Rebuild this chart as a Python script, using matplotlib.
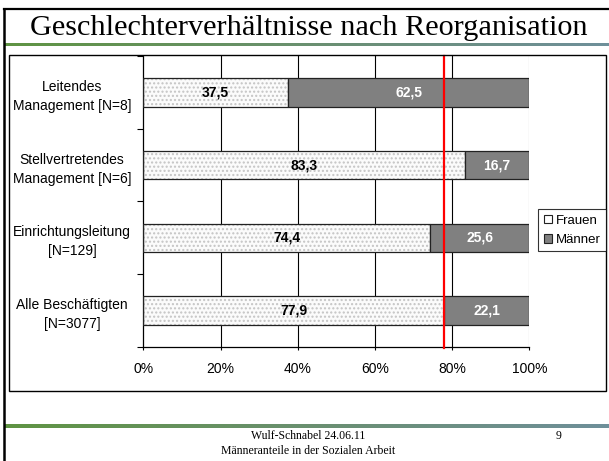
import numpy as np
import matplotlib
matplotlib.use("Agg")
import matplotlib.pyplot as plt
from matplotlib.patches import Rectangle, Patch
from matplotlib.lines import Line2D
from matplotlib.colors import LinearSegmentedColormap

# ---------------- data ----------------
title = "Geschlechterverhältnisse nach Reorganisation"
categories = ["Leitendes\nManagement [N=8]",
              "Stellvertretendes\nManagement [N=6]",
              "Einrichtungsleitung\n[N=129]",
              "Alle Beschäftigten\n[N=3077]"]
frauen = [37.5, 83.3, 74.4, 77.9]
maenner = [62.5, 16.7, 25.6, 22.1]
frauen_labels = ["37,5", "83,3", "74,4", "77,9"]
maenner_labels = ["62,5", "16,7", "25,6", "22,1"]
series_names = ["Frauen", "Männer"]
reference_value = 77.9
x_ticks = [0, 20, 40, 60, 80, 100]
x_ticklabels = ["0%", "20%", "40%", "60%", "80%", "100%"]
footer_lines = ["Wulf-Schnabel 24.06.11", "Männeranteile in der Sozialen Arbeit"]
page_number = "9"

# ---------------- figure ----------------
W, H = 609, 461
fig = plt.figure(figsize=(W / 100, H / 100), dpi=100)
fig.patch.set_facecolor("white")

def fx(px):
    return px / W

def fy(py):
    return 1 - py / H

sans = "Liberation Sans"
serif = "Liberation Serif"

# slide border (top and left)
fig.add_artist(Line2D([fx(4), fx(609)], [fy(9.5), fy(9.5)], color="black", lw=1.6,
                      transform=fig.transFigure))
fig.add_artist(Line2D([fx(4), fx(4)], [fy(9.5), fy(461)], color="black", lw=1.8,
                      transform=fig.transFigure))

# title
fig.text(fx(308.5), fy(35), title, fontsize=21.8, family=serif, ha="center",
         va="baseline", color="black")

# gradient lines
cmap = LinearSegmentedColormap.from_list("g", ["#5f9443", "#6a9070", "#6f8f9a"])
grad = np.linspace(0, 1, 256).reshape(1, -1)
for ycen, th in [(44.5, 3.5), (426.0, 3.2)]:
    gax = fig.add_axes([fx(5), fy(ycen + th / 2), fx(604), th / H])
    gax.imshow(grad, aspect="auto", cmap=cmap)
    gax.set_axis_off()

# chart box
fig.add_artist(Rectangle((fx(8.5), fy(391)), fx(606.3 - 8.5), (391 - 55) / H,
                         fill=False, edgecolor="black", lw=1.0,
                         transform=fig.transFigure))

# plot axes
x0, x1, y0, y1 = 143.3, 529.3, 56, 347
ax = fig.add_axes([fx(x0), fy(y1), fx(x1 - x0), (y1 - y0) / H])
ypos = np.arange(len(categories))
bh = 0.39

# frauen: dotted fill, then outline
ax.barh(ypos, frauen, height=bh, color="#fbfbfb", edgecolor="#c4c4c4", hatch="....",
        linewidth=0, zorder=2)
ax.barh(ypos, frauen, height=bh, fill=False, edgecolor="#222222", linewidth=0.9, zorder=3)
ax.barh(ypos, maenner, left=frauen, height=bh, color="#808080", edgecolor="#222222",
        linewidth=0.9, zorder=3)

for i in range(len(categories)):
    ax.text(frauen[i] / 2, ypos[i], frauen_labels[i], ha="center", va="center",
            fontsize=10, fontweight="bold", family=sans, color="black", zorder=5)
    ax.text(frauen[i] + maenner[i] / 2, ypos[i], maenner_labels[i], ha="center",
            va="center", fontsize=10, fontweight="bold", family=sans, color="white",
            zorder=5)

ax.set_xlim(0, 100)
ax.set_ylim(len(categories) - 0.5, -0.5)

# gridlines
for xv in x_ticks[1:-1]:
    ax.axvline(xv, color="black", lw=0.8, zorder=1)
ax.axvline(x_ticks[-1], color="#9a9a9a", lw=0.8, zorder=1)

# reference line
ax.axvline(reference_value, ymin=-0.004, ymax=1, color="#ff0000", lw=1.6, zorder=6,
           clip_on=False)

for s in ["top", "right"]:
    ax.spines[s].set_visible(False)
for s in ["left", "bottom"]:
    ax.spines[s].set_color("black")
    ax.spines[s].set_linewidth(0.9)

ax.set_xticks(x_ticks)
ax.set_xticklabels(x_ticklabels, fontsize=10, family=sans)
ax.tick_params(axis="x", direction="out", length=2.5, width=0.8, pad=8, colors="black")

ax.set_yticks(np.arange(-0.5, len(categories), 1.0))
ax.set_yticklabels([])
ax.tick_params(axis="y", which="major", direction="out", length=4, width=0.8)
ax.set_yticks(ypos, minor=True)
ax.set_yticklabels(categories, minor=True, fontsize=10, family=sans, ha="center",
                   linespacing=1.45)
ax.tick_params(axis="y", which="minor", length=0, pad=0)
for lbl in ax.get_yticklabels(minor=True):
    lbl.set_x(-(143.3 - 72) / (x1 - x0))

# legend
handles = [Patch(facecolor="white", edgecolor="#222222", lw=0.8),
           Patch(facecolor="#808080", edgecolor="#222222", lw=0.8)]
leg = fig.legend(handles, series_names, loc="upper right",
                 bbox_to_anchor=(fx(606.3), fy(209.3)), bbox_transform=fig.transFigure,
                 prop={"family": sans, "size": 9.5}, frameon=True,
                 fancybox=False, borderaxespad=0, borderpad=0.4, handlelength=0.65,
                 handleheight=0.65, handletextpad=0.3, labelspacing=0.55)
leg.get_frame().set_edgecolor("black")
leg.get_frame().set_linewidth(0.8)

# footer
fig.text(fx(308.5), fy(436), footer_lines[0], fontsize=8.5, family=serif, ha="center",
         va="center")
fig.text(fx(308.5), fy(451), footer_lines[1], fontsize=8.5, family=serif, ha="center",
         va="center")
fig.text(fx(559), fy(436), page_number, fontsize=8.5, family=serif, ha="center",
         va="center")

fig.savefig("out.png", dpi=100)
